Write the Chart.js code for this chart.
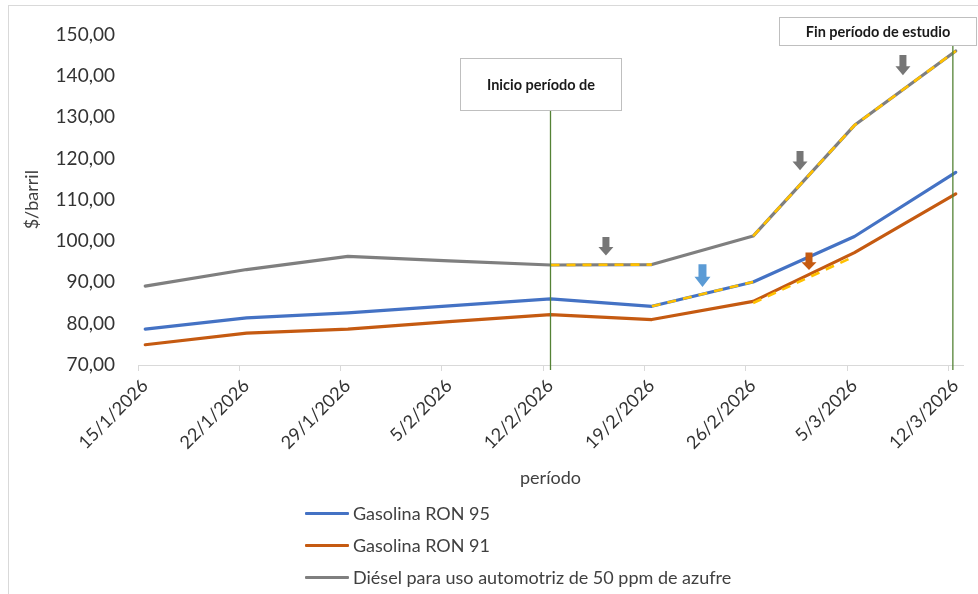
<!DOCTYPE html>
<html>
<head>
<meta charset="utf-8">
<script src="https://cdn.jsdelivr.net/npm/chart.js@4.4.1/dist/chart.umd.min.js"></script>
<style>
  html, body { margin: 0; padding: 0; background: #ffffff; }
  #wrap { position: relative; width: 978px; height: 594px; overflow: hidden; font-family: Lato, "Open Sans", sans-serif; }
  #c { position: absolute; left: 0; top: 0; }
  #legend { position: absolute; left: 305px; top: 497px; }
  .li { display: flex; align-items: center; height: 32px; font-size: 18px; color: #404040; }
  .sw { width: 44px; height: 3px; margin-right: 4px; border-radius: 1px; }
</style>
</head>
<body>
<div id="wrap">
  <canvas id="c" width="978" height="594"></canvas>
  <div id="legend"></div>
</div>
<script>
// ---- data ----
const dates = ["15/1/2026","22/1/2026","29/1/2026","5/2/2026","12/2/2026","19/2/2026","26/2/2026","5/3/2026","12/3/2026"];
const seriesNames = ["Gasolina RON 95","Gasolina RON 91","Diésel para uso automotriz de 50 ppm de azufre"];
const ron95  = [78.7, 81.4, 82.6, 84.3, 86.0, 84.2, 90.1, 101.1, 116.6];
const ron91  = [74.9, 77.7, 78.7, 80.5, 82.2, 81.0, 85.4, 97.2, 111.4];
const diesel = [89.1, 93.1, 96.3, 95.2, 94.2, 94.3, 101.2, 128.0, 146.0];
// projected (dashed yellow) segments
const dieselProjA = [null, null, null, null, 94.2, 94.3, null, null, null];
const dieselProjB = [null, null, null, null, null, null, 101.2, 128.0, 146.0];
const ron95Proj   = [null, null, null, null, null, 84.2, 90.1, null, null];
const ron91Proj   = [null, null, null, null, null, null, 85.0, 96.3, null];
const yTicks = [70, 80, 90, 100, 110, 120, 130, 140, 150];

// ---- styles ----
const colors = ["#4472C4", "#C55A11", "#7F7F7F"];
const projColor = "#FFC000";
const DAYS_PER_STEP = 7;
const toPts = arr => arr.map((v, i) => ({ x: i * DAYS_PER_STEP + 0.5, y: v }));

Chart.defaults.font.family = "Lato, 'Open Sans', sans-serif";
Chart.defaults.color = "#404040";

const mainDs = (data, color) => ({
  data: toPts(data), borderColor: color, borderWidth: 3.2, pointRadius: 0,
  borderCapStyle: "round", borderJoinStyle: "round", tension: 0, order: 1, spanGaps: false
});
const projDs = (data) => ({
  data: toPts(data), borderColor: projColor, borderWidth: 2.6, pointRadius: 0,
  borderDash: [9, 7], tension: 0, order: 0, spanGaps: false, fill: false
});

// annotations (in data units: days since 15/1, $/barril)
const markers = [
  { day: 28.5, from: 131.8, label: "Inicio período de", box: [22.25, 33.37, 144.3, 131.8] },
  { day: 56.3, from: 147.4, label: "Fin período de estudio", box: [44.29, 57.9, 154.3, 147.4] }
];
const arrows = [
  { day: 32.33, top: 101.0, tip: 96.5, color: "#767676", sw: 7, hw: 15 },
  { day: 39.0,  top: 94.4,  tip: 88.9, color: "#5B9BD5", sw: 8, hw: 16 },
  { day: 45.74, top: 121.8, tip: 117.1, color: "#767676", sw: 7, hw: 15 },
  { day: 46.36, top: 97.2,  tip: 93.0, color: "#C55A11", sw: 7, hw: 15 },
  { day: 52.85, top: 145.0, tip: 140.1, color: "#767676", sw: 7, hw: 15 }
];

const annotPlugin = {
  id: "annot",
  beforeDraw(chart) {
    const ctx = chart.ctx;
    ctx.save();
    ctx.strokeStyle = "#D9D9D9";
    ctx.lineWidth = 1;
    ctx.strokeRect(8.5, 5.5, 1100, 1100);
    ctx.restore();
  },
  afterDatasetsDraw(chart) {
    const ctx = chart.ctx, xs = chart.scales.x, ys = chart.scales.y;
    ctx.save();
    // vertical markers
    markers.forEach(m => {
      const x = xs.getPixelForValue(m.day);
      ctx.strokeStyle = "#548235";
      ctx.lineWidth = 1.3;
      ctx.beginPath();
      ctx.moveTo(x, ys.getPixelForValue(m.from));
      ctx.lineTo(x, ys.bottom + 5);
      ctx.stroke();
    });
    // arrows
    arrows.forEach(a => {
      const x = xs.getPixelForValue(a.day);
      const yt = ys.getPixelForValue(a.top), yb = ys.getPixelForValue(a.tip);
      const h = yb - yt, headH = h * 0.45;
      ctx.fillStyle = a.color;
      ctx.beginPath();
      ctx.moveTo(x - a.sw / 2, yt);
      ctx.lineTo(x + a.sw / 2, yt);
      ctx.lineTo(x + a.sw / 2, yb - headH);
      ctx.lineTo(x + a.hw / 2, yb - headH);
      ctx.lineTo(x, yb);
      ctx.lineTo(x - a.hw / 2, yb - headH);
      ctx.lineTo(x - a.sw / 2, yb - headH);
      ctx.closePath();
      ctx.fill();
    });
    // boxes
    markers.forEach(m => {
      const [d0, d1, v0, v1] = m.box;
      const x0 = Math.round(xs.getPixelForValue(d0)) + 0.5, x1 = Math.round(xs.getPixelForValue(d1)) + 0.5;
      const y0 = Math.round(ys.getPixelForValue(v0)) + 0.5, y1 = Math.round(ys.getPixelForValue(v1)) + 0.5;
      ctx.fillStyle = "#FFFFFF";
      ctx.fillRect(x0, y0, x1 - x0, y1 - y0);
      ctx.strokeStyle = "#BFBFBF";
      ctx.lineWidth = 1;
      ctx.strokeRect(x0, y0, x1 - x0, y1 - y0);
      ctx.fillStyle = "#1a1a1a";
      ctx.font = "bold 14.5px Lato, 'Open Sans', sans-serif";
      ctx.textAlign = "center";
      ctx.textBaseline = "middle";
      ctx.fillText(m.label, (x0 + x1) / 2, (y0 + y1) / 2 + 1);
    });
    ctx.restore();
  }
};

const chart = new Chart(document.getElementById("c"), {
  type: "line",
  data: {
    datasets: [
      mainDs(ron95, colors[0]),
      mainDs(ron91, colors[1]),
      mainDs(diesel, colors[2]),
      projDs(dieselProjA),
      projDs(dieselProjB),
      projDs(ron95Proj),
      projDs(ron91Proj)
    ]
  },
  options: {
    responsive: false,
    animation: false,
    layout: { padding: { left: 0, top: 27, right: 15, bottom: 104 } },
    plugins: { legend: { display: false }, tooltip: { enabled: false } },
    scales: {
      x: {
        type: "linear",
        min: 0,
        max: (dates.length - 1) * DAYS_PER_STEP + 1,
        afterBuildTicks: s => { s.ticks = dates.map((d, i) => ({ value: i * DAYS_PER_STEP })); },
        afterFit: s => { s.height = 125; },
        ticks: {
          autoSkip: false,
          minRotation: 45,
          maxRotation: 45,
          labelOffset: 7,
          padding: 4,
          font: { size: 18 },
          color: "#333333",
          callback: v => dates[Math.round(v / DAYS_PER_STEP)]
        },
        grid: { drawOnChartArea: false, drawTicks: true, tickLength: 6, color: "#D9D9D9" },
        border: { display: true, color: "#D9D9D9", width: 1 },
        title: { display: true, text: "período", font: { size: 18 }, color: "#404040", padding: { top: 0, bottom: 1 } }
      },
      y: {
        min: yTicks[0],
        max: yTicks[yTicks.length - 1],
        afterBuildTicks: s => { s.ticks = yTicks.map(v => ({ value: v })); },
        afterFit: s => { s.width = 138; },
        ticks: {
          padding: 23,
          font: { size: 19 },
          color: "#333333",
          callback: v => v.toFixed(2).replace(".", ",")
        },
        grid: { display: false, drawTicks: false },
        border: { display: false },
        title: { display: true, text: "$/barril", font: { size: 18 }, color: "#404040", padding: { top: 21, bottom: 0 } }
      }
    }
  },
  plugins: [annotPlugin]
});

// HTML legend
const lg = document.getElementById("legend");
seriesNames.forEach((n, i) => {
  const row = document.createElement("div");
  row.className = "li";
  const sw = document.createElement("span");
  sw.className = "sw";
  sw.style.background = colors[i];
  const tx = document.createElement("span");
  tx.textContent = n;
  row.appendChild(sw); row.appendChild(tx);
  lg.appendChild(row);
});
</script>
</body>
</html>
